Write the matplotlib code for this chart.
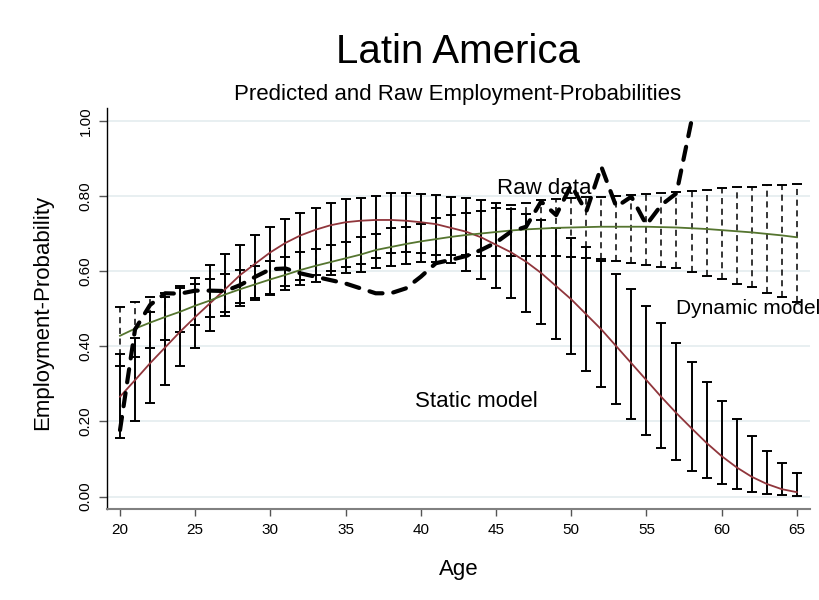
# Latin America: static vs dynamic model predictions with raw employment shares
import numpy as np
import matplotlib.pyplot as plt

plt.rcParams['font.family'] = ['Liberation Sans', 'DejaVu Sans']

ages = list(range(20, 66))

# static model (red line + solid CI bars)
static_mean = [0.266, 0.310, 0.355, 0.397, 0.439, 0.478, 0.515, 0.552, 0.590, 0.620,
               0.650, 0.675, 0.695, 0.710, 0.722, 0.730, 0.734, 0.736, 0.736, 0.734,
               0.730, 0.725, 0.715, 0.705, 0.690, 0.670, 0.650, 0.625, 0.595, 0.560,
               0.525, 0.485, 0.445, 0.400, 0.355, 0.310, 0.265, 0.222, 0.182, 0.143,
               0.108, 0.078, 0.053, 0.034, 0.020, 0.012]
static_lo = [0.157, 0.200, 0.248, 0.297, 0.348, 0.395, 0.441, 0.480, 0.508, 0.523,
             0.536, 0.550, 0.563, 0.572, 0.590, 0.594, 0.598, 0.607, 0.614, 0.619,
             0.625, 0.625, 0.621, 0.601, 0.579, 0.554, 0.528, 0.492, 0.459, 0.419,
             0.380, 0.335, 0.291, 0.247, 0.206, 0.164, 0.129, 0.098, 0.069, 0.049,
             0.033, 0.020, 0.012, 0.008, 0.005, 0.003]
static_hi = [0.380, 0.421, 0.490, 0.530, 0.560, 0.581, 0.616, 0.645, 0.669, 0.696,
             0.718, 0.738, 0.754, 0.767, 0.780, 0.791, 0.795, 0.800, 0.807, 0.807,
             0.805, 0.803, 0.798, 0.794, 0.789, 0.780, 0.764, 0.752, 0.736, 0.715,
             0.689, 0.663, 0.628, 0.592, 0.552, 0.508, 0.461, 0.410, 0.357, 0.306,
             0.255, 0.207, 0.161, 0.122, 0.089, 0.064]

# dynamic model (green line + dashed CI bars)
dyn_mean = [0.428, 0.447, 0.463, 0.478, 0.492, 0.508, 0.522, 0.538, 0.552, 0.565,
            0.578, 0.590, 0.603, 0.614, 0.624, 0.634, 0.644, 0.656, 0.664, 0.672,
            0.679, 0.685, 0.691, 0.696, 0.700, 0.704, 0.708, 0.711, 0.713, 0.715,
            0.716, 0.717, 0.718, 0.718, 0.718, 0.718, 0.717, 0.716, 0.714, 0.712,
            0.709, 0.706, 0.703, 0.699, 0.695, 0.690]
dyn_lo = [0.348, 0.372, 0.395, 0.417, 0.437, 0.457, 0.477, 0.492, 0.515, 0.528,
          0.540, 0.560, 0.576, 0.590, 0.600, 0.610, 0.620, 0.635, 0.648, 0.652,
          0.647, 0.643, 0.642, 0.642, 0.641, 0.640, 0.640, 0.641, 0.641, 0.641,
          0.638, 0.636, 0.632, 0.628, 0.622, 0.616, 0.610, 0.607, 0.598, 0.587,
          0.578, 0.567, 0.557, 0.543, 0.530, 0.519]
dyn_hi = [0.505, 0.518, 0.530, 0.541, 0.554, 0.566, 0.578, 0.591, 0.603, 0.614,
          0.626, 0.638, 0.652, 0.660, 0.669, 0.678, 0.692, 0.700, 0.714, 0.716,
          0.725, 0.740, 0.748, 0.754, 0.760, 0.767, 0.775, 0.782, 0.789, 0.792,
          0.794, 0.796, 0.798, 0.800, 0.803, 0.806, 0.809, 0.811, 0.814, 0.817,
          0.820, 0.823, 0.825, 0.828, 0.830, 0.832]

# raw employment shares, ages 20-58
raw_ages = list(range(20, 59))
raw = [0.177, 0.445, 0.510, 0.541, 0.540, 0.548, 0.548, 0.547, 0.563, 0.585,
       0.605, 0.607, 0.594, 0.585, 0.576, 0.567, 0.554, 0.541, 0.541, 0.554,
       0.585, 0.621, 0.630, 0.640, 0.656, 0.676, 0.705, 0.718, 0.785, 0.749,
       0.829, 0.758, 0.878, 0.771, 0.798, 0.723, 0.776, 0.807, 1.000]

x = np.array(ages)
sm, sl, sh = map(np.array, (static_mean, static_lo, static_hi))
dm, dl, dh = map(np.array, (dyn_mean, dyn_lo, dyn_hi))

RED = '#90353b'
GREEN = '#55752f'

fig = plt.figure(figsize=(8.19, 6.0), dpi=100)
ax = fig.add_axes([0.1303, 0.1517, 0.8587, 0.6683])

ax.grid(axis='y', color='#e8eff1', lw=1.4, zorder=0)
ax.set_axisbelow(True)

# solid CI bars (static)
ax.errorbar(x, sm, yerr=[np.maximum(sm - sl, 0), np.maximum(sh - sm, 0)], fmt='none',
            ecolor='black', elinewidth=1.4, capsize=3.3, capthick=1.4, zorder=2)
# dashed CI bars (dynamic)
eb = ax.errorbar(x, dm, yerr=[np.maximum(dm - dl, 0), np.maximum(dh - dm, 0)], fmt='none',
                 ecolor='black', elinewidth=1.1, capsize=3.3, capthick=1.4, zorder=2)
eb.lines[2][0].set_linestyle((0, (4, 3)))

ax.plot(x, sm, color=RED, lw=1.3, zorder=3)
ax.plot(x, dm, color=GREEN, lw=1.3, zorder=3)
ax.plot(raw_ages, raw, color='black', lw=3.0, dashes=(3.2, 2.6),
        dash_capstyle='round', solid_capstyle='round', zorder=4)

ax.text(45.07, 0.821, 'Raw data', fontsize=16, ha='left', va='center', zorder=5)
ax.text(39.6, 0.252, 'Static model', fontsize=16, ha='left', va='center')
ax.text(56.95, 0.50, 'Dynamic model', fontsize=15, ha='left', va='center', clip_on=False)

ax.set_xlim(19.116, 65.878)
ax.set_ylim(-0.0327, 1.0338)
ax.set_xticks(range(20, 66, 5))
ax.set_yticks([0.0, 0.2, 0.4, 0.6, 0.8, 1.0])
ax.set_yticklabels(['0.00', '0.20', '0.40', '0.60', '0.80', '1.00'],
                   rotation=90, va='center')
ax.tick_params(axis='y', length=6, width=1, color='#555555', labelsize=11, pad=4)
ax.tick_params(axis='x', length=5, width=1, color='#555555', labelsize=11, pad=5)

for s in ('top', 'right'):
    ax.spines[s].set_visible(False)
ax.spines['left'].set_color('black')
ax.spines['left'].set_linewidth(1.0)
ax.spines['bottom'].set_color('#808080')
ax.spines['bottom'].set_linewidth(1.5)

ax.set_ylabel('Employment-Probability', fontsize=16)
ax.yaxis.set_label_coords(-0.0906, 0.49)
ax.yaxis.label.set_va('center')
ax.set_xlabel('Age', fontsize=16)
ax.xaxis.set_label_coords(0.5, -0.152)
ax.xaxis.label.set_va('center')

fig.text(0.559, 0.913, 'Latin America', fontsize=29, ha='center', va='center')
fig.text(0.559, 0.842, 'Predicted and Raw Employment-Probabilities', fontsize=16,
         ha='center', va='center')

fig.savefig('out.png', dpi=100)
